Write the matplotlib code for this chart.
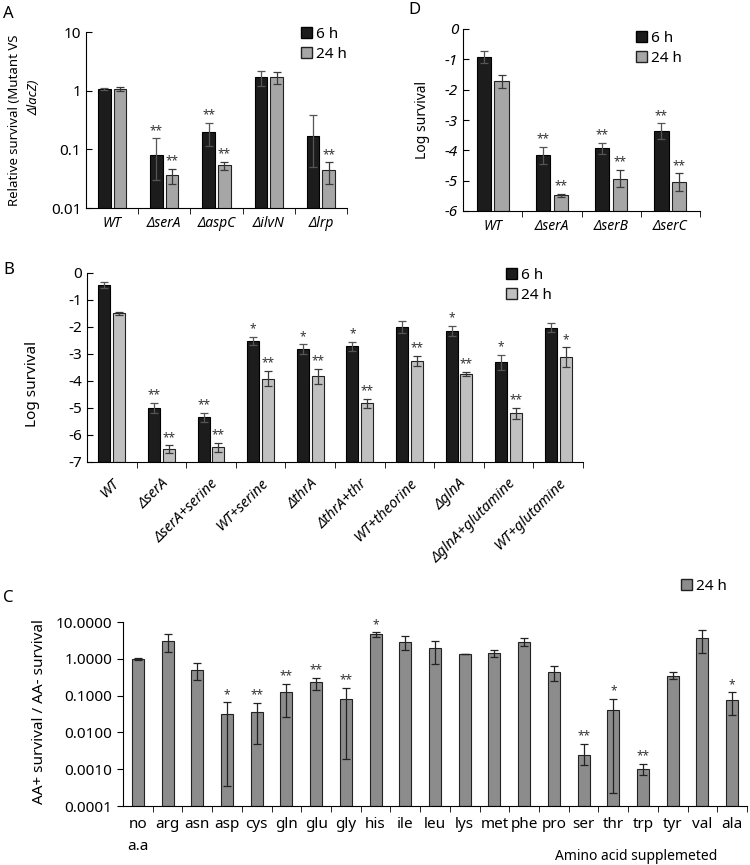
import numpy as np
import matplotlib
matplotlib.use('Agg')
import matplotlib.pyplot as plt
from matplotlib.patches import Patch
from matplotlib.ticker import NullLocator, FixedLocator

plt.rcParams['font.family'] = ['Noto Sans', 'DejaVu Sans']

# panel A: relative survival (log scale)
a_groups = ['WT', 'ΔserA', 'ΔaspC', 'ΔilvN', 'Δlrp']
a_6h = [1.07, 0.08, 0.195, 1.7, 0.17]
a_6h_lo = [1.04, 0.03, 0.114, 1.2, 0.05]
a_6h_hi = [1.1, 0.155, 0.28, 2.15, 0.39]
a_24h = [1.07, 0.036, 0.054, 1.7, 0.044]
a_24h_lo = [1.0, 0.0255, 0.045, 1.3, 0.026]
a_24h_hi = [1.14, 0.047, 0.062, 2.1, 0.06]
a_6h_sig = ['', '**', '**', '', '']
a_24h_sig = ['', '**', '**', '', '**']

# panel D: log survival of ser mutants
d_groups = ['WT', 'ΔserA', 'ΔserB', 'ΔserC']
d_6h = [-0.93, -4.16, -3.93, -3.36]
d_6h_err = [0.2, 0.28, 0.18, 0.25]
d_24h = [-1.72, -5.48, -4.93, -5.05]
d_24h_err = [0.22, 0.05, 0.29, 0.29]
d_6h_sig = ['', '**', '**', '**']
d_24h_sig = ['', '**', '**', '**']

# panel B: log survival with supplements
b_groups = ['WT', 'ΔserA', 'ΔserA+serine', 'WT+serine', 'ΔthrA', 'ΔthrA+thr',
            'WT+theorine', 'ΔglnA', 'ΔglnA+glutamine', 'WT+glutamine']
b_6h = [-0.44, -5.0, -5.35, -2.52, -2.82, -2.72, -2.0, -2.15, -3.31, -2.03]
b_6h_err = [0.12, 0.19, 0.17, 0.15, 0.18, 0.17, 0.23, 0.2, 0.28, 0.16]
b_24h = [-1.5, -6.52, -6.45, -3.91, -3.83, -4.82, -3.25, -3.73, -5.2, -3.12]
b_24h_err = [0.07, 0.14, 0.17, 0.29, 0.27, 0.17, 0.19, 0.08, 0.2, 0.37]
b_6h_sig = ['', '**', '**', '*', '*', '*', '', '*', '*', '']
b_24h_sig = ['', '**', '**', '**', '**', '**', '**', '**', '**', '*']

# panel C: amino acid supplementation
c_labels = ['no\na.a', 'arg', 'asn', 'asp', 'cys', 'gln', 'glu', 'gly', 'his', 'ile', 'leu',
            'lys', 'met', 'phe', 'pro', 'ser', 'thr', 'trp', 'tyr', 'val', 'ala']
c_vals = [1.0, 2.98, 0.51, 0.032, 0.036, 0.123, 0.234, 0.081, 4.6, 2.8, 1.96,
          1.35, 1.41, 2.93, 0.446, 0.0025, 0.041, 0.00102, 0.35, 3.67, 0.078]
c_lo = [0.95, 1.53, 0.26, 0.00034, 0.0048, 0.027, 0.145, 0.0019, 3.9, 1.7, 0.74,
        1.32, 1.1, 2.23, 0.244, 0.0013, 0.00022, 0.00068, 0.28, 1.4, 0.029]
c_hi = [1.05, 4.6, 0.785, 0.065, 0.063, 0.207, 0.30, 0.16, 5.2, 4.2, 3.1,
        1.38, 1.74, 3.67, 0.64, 0.0049, 0.081, 0.0014, 0.45, 6.0, 0.123]
c_sig = ['', '', '', '*', '**', '**', '**', '**', '*', '', '', '', '', '', '',
         '**', '*', '**', '', '', '*']

W, H = 750, 865
fig = plt.figure(figsize=(7.5, 8.65), dpi=100)

DARK = '#1c1c1c'
ERR = '#3a3a3a'


def axes_px(x0, y0, x1, y1):
    return fig.add_axes([x0 / W, 1 - y1 / H, (x1 - x0) / W, (y1 - y0) / H])


def style(ax, n, ydir='in', xsize=10, italic=True):
    ax.spines[['top', 'right']].set_visible(False)
    ax.set_xlim(-0.5, n - 0.5)
    ax.xaxis.set_major_locator(FixedLocator(range(n)))
    ax.xaxis.set_minor_locator(FixedLocator(np.arange(n) + 0.5))
    ax.tick_params(axis='x', which='major', length=0, pad=6, labelsize=xsize)
    ax.tick_params(axis='x', which='minor', direction='out', length=4)
    ax.tick_params(axis='y', which='major', direction=ydir, length=4)
    ax.yaxis.set_minor_locator(NullLocator())
    if italic:
        for t in ax.get_xticklabels():
            t.set_style('italic')


def stars(ax, xs, tops, sig, size=8.5):
    for x, t, s in zip(xs, tops, sig):
        if s:
            ax.annotate(s, (x, t), xytext=(0, 1), textcoords='offset points',
                        ha='center', va='bottom', fontsize=size, color='#333333')


def legend_at(ax, handles, x, y, size=11):
    ax.legend(handles=handles, loc='upper left', bbox_to_anchor=(x / W, 1 - y / H),
              bbox_transform=fig.transFigure, frameon=False, fontsize=size,
              handlelength=0.7, handleheight=0.7, handletextpad=0.3,
              labelspacing=0.3, borderpad=0, borderaxespad=0)


def grouped(ax, v6, e6, v24, e24, c24, base):
    x = np.arange(len(v6))
    ax.bar(x - 0.15, np.array(v6) - base, 0.24, bottom=base, color=DARK,
           edgecolor='black', linewidth=0.8)
    ax.bar(x + 0.15, np.array(v24) - base, 0.24, bottom=base, color=c24,
           edgecolor='#222222', linewidth=0.8)
    ax.errorbar(x - 0.15, v6, yerr=e6, fmt='none', ecolor='#555555', elinewidth=0.9,
                capsize=3, capthick=0.9)
    ax.errorbar(x + 0.15, v24, yerr=e24, fmt='none', ecolor=ERR, elinewidth=0.9,
                capsize=3, capthick=0.9)
    return x


# ---- A ----
axA = axes_px(86, 32, 347, 208)
xa = np.arange(len(a_groups))
axA.set_yscale('log')
axA.bar(xa - 0.15, a_6h, 0.24, color=DARK, edgecolor='black', linewidth=0.8)
axA.bar(xa + 0.15, a_24h, 0.24, color='#a6a6a6', edgecolor='#222222', linewidth=0.8)
a6 = np.array(a_6h)
a24 = np.array(a_24h)
axA.errorbar(xa - 0.15, a6, yerr=[a6 - np.array(a_6h_lo), np.array(a_6h_hi) - a6],
             fmt='none', ecolor='#555555', elinewidth=0.9, capsize=3, capthick=0.9)
axA.errorbar(xa + 0.15, a24, yerr=[a24 - np.array(a_24h_lo), np.array(a_24h_hi) - a24],
             fmt='none', ecolor=ERR, elinewidth=0.9, capsize=3, capthick=0.9)
axA.set_ylim(0.01, 10)
axA.set_yticks([0.01, 0.1, 1, 10])
axA.set_yticklabels(['0.01', '0.1', '1', '10'])
axA.set_xticks(xa)
axA.set_xticklabels(a_groups)
style(axA, len(a_groups))
axA.tick_params(axis='y', labelsize=11)
stars(axA, xa - 0.15, a_6h_hi, a_6h_sig)
stars(axA, xa + 0.15, a_24h_hi, a_24h_sig)
legend_at(axA, [Patch(facecolor=DARK, edgecolor='black', label='6 h'),
                Patch(facecolor='#a6a6a6', edgecolor='#222222', label='24 h')], 301, 27)
fig.text(15 / W, 1 - 120 / H, 'Relative survival (Mutant VS', rotation=90,
         ha='center', va='center', fontsize=9.5)
fig.text(34 / W, 1 - 97 / H, 'ΔlacZ)', rotation=90, ha='center', va='center',
         fontsize=9.5, style='italic')
fig.text(3 / W, 1 - 14 / H, 'A', fontsize=12, va='center')

# ---- D ----
axD = axes_px(463, 29, 700, 211)
xd = grouped(axD, d_6h, d_6h_err, d_24h, d_24h_err, '#a6a6a6', -6)
axD.set_ylim(-6, 0)
axD.set_yticks(range(-6, 1))
axD.set_yticklabels([str(v) for v in range(-6, 1)])
axD.set_xticks(xd)
axD.set_xticklabels(d_groups)
style(axD, len(d_groups))
axD.tick_params(axis='y', labelsize=11)
for t in axD.get_yticklabels():
    t.set_style('italic')
stars(axD, xd - 0.15, np.array(d_6h) + np.array(d_6h_err), d_6h_sig)
stars(axD, xd + 0.15, np.array(d_24h) + np.array(d_24h_err), d_24h_sig)
legend_at(axD, [Patch(facecolor=DARK, edgecolor='black', label='6 h'),
                Patch(facecolor='#a6a6a6', edgecolor='#222222', label='24 h')], 636, 31)
fig.text(423 / W, 1 - 120 / H, 'Log survival', rotation=90, ha='center', va='center',
         fontsize=10)
fig.text(408 / W, 1 - 10 / H, 'D', fontsize=12, va='center')

# ---- B ----
axB = axes_px(87, 273, 583, 462)
xb = grouped(axB, b_6h, b_6h_err, b_24h, b_24h_err, '#c0c0c0', -7)
axB.set_ylim(-7, 0)
axB.set_yticks(range(-7, 1))
axB.set_yticklabels([str(v) for v in range(-7, 1)])
axB.set_xticks(xb)
axB.set_xticklabels(b_groups, rotation=45, ha='right', rotation_mode='anchor')
style(axB, len(b_groups), xsize=10.5)
axB.tick_params(axis='x', which='major', pad=10)
axB.tick_params(axis='y', labelsize=11)
stars(axB, xb - 0.15, np.array(b_6h) + np.array(b_6h_err), b_6h_sig)
stars(axB, xb + 0.15, np.array(b_24h) + np.array(b_24h_err), b_24h_sig)
legend_at(axB, [Patch(facecolor=DARK, edgecolor='black', label='6 h'),
                Patch(facecolor='#c0c0c0', edgecolor='#222222', label='24 h')], 506, 268)
fig.text(32 / W, 1 - 384 / H, 'Log survival', rotation=90, ha='center', va='center',
         fontsize=11)
fig.text(3 / W, 1 - 270 / H, 'B', fontsize=12, va='center')

# ---- C ----
axC = axes_px(123, 622, 747, 806)
xc = np.arange(len(c_labels))
cv = np.array(c_vals)
axC.set_yscale('log')
axC.bar(xc, cv - 0.0001, 0.4, bottom=0.0001, color='#8c8c8c', edgecolor='#222222',
        linewidth=0.8)
axC.errorbar(xc, cv, yerr=[cv - np.array(c_lo), np.array(c_hi) - cv], fmt='none',
             ecolor='#222222', elinewidth=0.9, capsize=3, capthick=0.9)
axC.set_ylim(0.0001, 10)
ct = [0.0001, 0.001, 0.01, 0.1, 1, 10]
axC.set_yticks(ct)
axC.set_yticklabels(['%.4f' % v for v in ct])
axC.set_xticks(xc)
axC.set_xticklabels(c_labels, linespacing=1.6)
style(axC, len(c_labels), ydir='out', xsize=11, italic=False)
axC.tick_params(axis='x', which='major', pad=8)
axC.tick_params(axis='y', labelsize=11)
stars(axC, xc, c_hi, c_sig)
legend_at(axC, [Patch(facecolor='#8c8c8c', edgecolor='#222222', label='24 h')], 681, 579)
fig.text(40 / W, 1 - 712 / H, 'AA+ survival / AA- survival', rotation=90, ha='center',
         va='center', fontsize=11)
fig.text(636 / W, 1 - 856 / H, 'Amino acid supplemeted', ha='center', va='center',
         fontsize=10)
fig.text(3 / W, 1 - 598 / H, 'C', fontsize=12, va='center')

fig.savefig('out.png', dpi=100)
